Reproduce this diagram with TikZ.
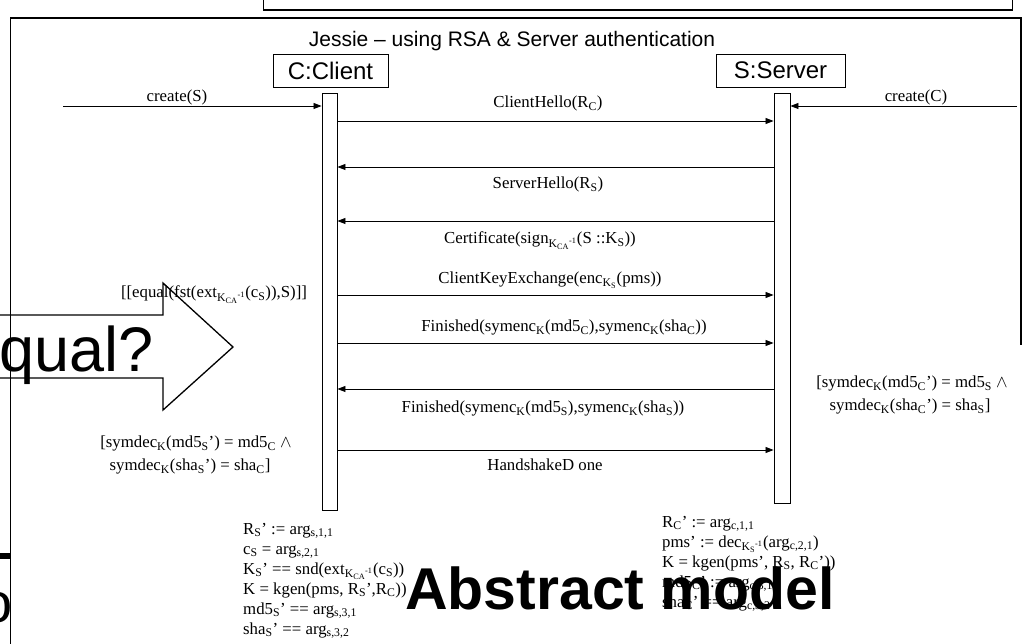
\documentclass[tikz,border=0pt]{standalone}
\usepackage{fontspec}
\setmainfont{Liberation Serif}
\setsansfont{Liberation Sans}
\usetikzlibrary{arrows.meta}
% small helpers for sub- and superscripts in running text
\newcommand{\subx}[1]{\textsubscript{#1}}
\newcommand{\supx}[1]{\textsuperscript{#1}}
\newcommand{\kca}{K\subx{CA}\supx{-1}}
\begin{document}
\begin{tikzpicture}[x=1pt,y=-1pt,
  serif/.style={font=\fontsize{16.8}{20}\selectfont, inner sep=0pt, anchor=base},
  lineL/.style={serif, anchor=base west},
  msg/.style={line width=0.8pt, -{Triangle[length=8pt,width=6pt]}},
  obj/.style={draw, line width=0.9pt, inner sep=0pt, font=\sffamily\fontsize{24}{28}\selectfont},
  life/.style={draw, line width=0.9pt, fill=white, inner sep=0pt, minimum width=15pt},
  framed/.style={line width=1.1pt},
]
\useasboundingbox (0,0) rectangle (1029,644);
\clip (0,0) rectangle (1029,644);

% strip of the box above the frame
\draw[line width=0.9pt] (263,-10) rectangle (1012,10);
\draw[line width=2.5pt] (263,10) -- (1012,10);

% block arrow with its large caption
\draw[line width=1.3pt, fill=white] (-5,315) -- (163,315) -- (163,283) -- (233,347)
  -- (163,410) -- (163,378) -- (-5,378) -- cycle;
\node[font=\sffamily\fontsize{63}{66}\selectfont, anchor=base west, inner sep=0pt] (qual) at (-1,372) {qual?};

% fragments at the left edge
\fill (0,553) rectangle (10,559);
\node[font=\sffamily\fontsize{56}{60}\selectfont, anchor=base east, inner sep=0pt] (frag) at (12.5,622) {o};

% frame
\draw[framed] (1021,345) -- (1021,18) -- (10.7,18) -- (10.7,650);

% title
\node[font=\sffamily\fontsize{21}{25}\selectfont] (title) at (512,41) {Jessie – using RSA \& Server authentication};

% objects and activation bars
\node[obj, minimum width=115pt, minimum height=33pt] (client) at (330.5,70.5) {C:Client};
\node[obj, minimum width=129pt, minimum height=33pt] (server) at (780.5,70.5) {S:Server};
\node[life, minimum height=417pt] (cbar) at (329.5,301.5) {};
\node[life, minimum width=16pt, minimum height=410pt] (sbar) at (782,298) {};

% creation messages
\coordinate (csrc) at (63,106);
\coordinate (ssrc) at (1017,106);
\draw[msg] (csrc) -- (cbar.west |- csrc);
\draw[msg] (ssrc) -- (sbar.east |- ssrc);
\node[serif] (lcs) at (177,102) {create(S)};
\node[serif] (lcc) at (916,102) {create(C)};

% handshake messages
\coordinate (y1) at (0,121);
\coordinate (y2) at (0,167);
\coordinate (y3) at (0,221);
\coordinate (y4) at (0,295);
\coordinate (y5) at (0,343);
\coordinate (y6) at (0,389);
\coordinate (y7) at (0,450);
\draw[msg] (cbar.east |- y1) -- (sbar.west |- y1);
\draw[msg] (sbar.west |- y2) -- (cbar.east |- y2);
\draw[msg] (sbar.west |- y3) -- (cbar.east |- y3);
\draw[msg] (cbar.east |- y4) -- (sbar.west |- y4);
\draw[msg] (cbar.east |- y5) -- (sbar.west |- y5);
\draw[msg] (sbar.west |- y6) -- (cbar.east |- y6);
\draw[msg] (cbar.east |- y7) -- (sbar.west |- y7);

\node[serif] (m1) at (548,108) {ClientHello(R\subx{C})};
\node[serif] (m2) at (548,189) {ServerHello(R\subx{S})};
\node[serif] (m3) at (540,244) {Certificate(sign\subx{\kca}(S ::K\subx{S}))};
\node[serif] (m4) at (550,284) {ClientKeyExchange(enc\subx{K\subx{S}}(pms))};
\node[serif] (m5) at (564,332) {Finished(symenc\subx{K}(md5\subx{C}),symenc\subx{K}(sha\subx{C}))};
\node[serif] (m6) at (543,413) {Finished(symenc\subx{K}(md5\subx{S}),symenc\subx{K}(sha\subx{S}))};
\node[serif] (m7) at (545,471) {HandshakeD one};

% guards
\node[serif] (g1) at (214,298) {[[equal(fst(ext\subx{\kca}(c\subx{S})),S)]]};
\node[serif] (g2a) at (196,448) {[symdec\subx{K}(md5\subx{S}') = md5\subx{C} $\wedge$};
\node[serif] (g2b) at (190,471) {symdec\subx{K}(sha\subx{S}') = sha\subx{C}]};
\node[serif] (g3a) at (912,388) {[symdec\subx{K}(md5\subx{C}') = md5\subx{S} $\wedge$};
\node[serif] (g3b) at (910,411) {symdec\subx{K}(sha\subx{C}') = sha\subx{S}]};

% client side assignments
\node[lineL] (a1) at (243,534) {R\subx{S}' := arg\subx{s,1,1}};
\node[lineL] (a2) at (243,554) {c\subx{S} = arg\subx{s,2,1}};
\node[lineL] (a3) at (243,574) {K\subx{S}' == snd(ext\subx{\kca}(c\subx{S}))};
\node[lineL] (a4) at (243,594) {K = kgen(pms, R\subx{S}',R\subx{C}))};
\node[lineL] (a5) at (243,614) {md5\subx{S}' == arg\subx{s,3,1}};
\node[lineL] (a6) at (243,634) {sha\subx{S}' == arg\subx{s,3,2}};

% server side assignments
\node[lineL] (b1) at (662,527) {R\subx{C}' := arg\subx{c,1,1}};
\node[lineL] (b2) at (662,547) {pms' := dec\subx{K\subx{S}\supx{-1}}(arg\subx{c,2,1})};
\node[lineL] (b3) at (662,567) {K = kgen(pms', R\subx{S}, R\subx{C}'))};
\node[lineL] (b4) at (662,587) {md5\subx{C}' := arg\subx{c,3,1}};
\node[lineL] (b5) at (662,607) {sha\subx{C}' == arg\subx{c,3,2}};

% caption over the lower part
\node[font=\sffamily\bfseries\fontsize{59}{62}\selectfont, anchor=base west, inner sep=0pt] (abs) at (405,609) {Abstract model};
\end{tikzpicture}
\end{document}
